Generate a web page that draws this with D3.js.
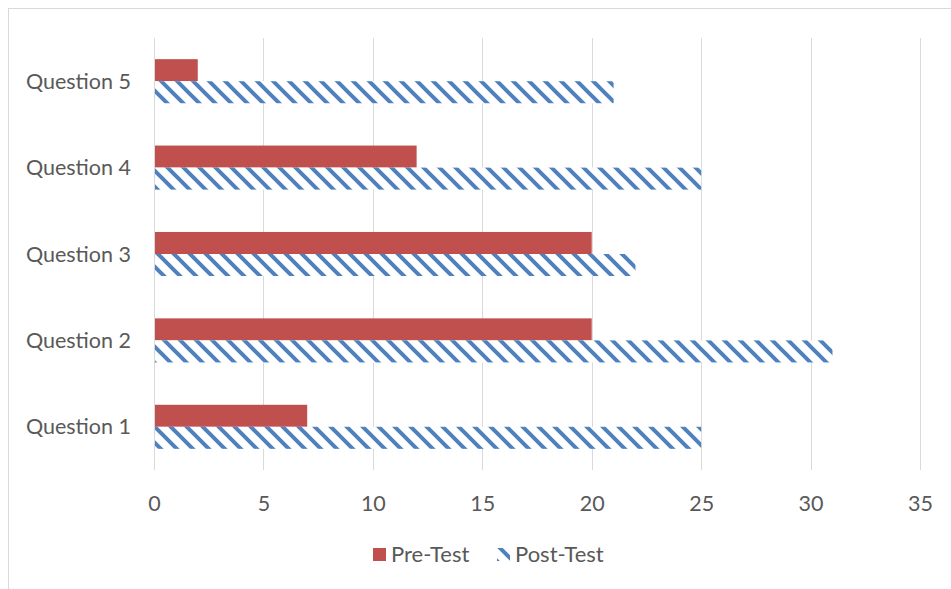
<!DOCTYPE html>
<html><head><meta charset="utf-8">
<script src="https://cdn.jsdelivr.net/npm/d3@7"></script>
<style>body{margin:0;background:#fff;} svg{display:block;}</style>
</head><body>
<svg id="c" width="951" height="589"></svg>
<script>
const categories = ["Question 1","Question 2","Question 3","Question 4","Question 5"];
const preTest = [7, 20, 20, 12, 2];
const postTest = [25, 31, 22, 25, 21];
const xTicks = [0,5,10,15,20,25,30,35];
const seriesNames = ["Pre-Test","Post-Test"];

const svg = d3.select("#c");
const font = "Lato, 'Open Sans', sans-serif";
const fs = "21.5px";
const fsLeg = "22px";
const textCol = "#595959";
const red = "#C0504D", blue = "#4F81BD";

// chart border
svg.append("rect").attr("x",8.5).attr("y",8.5).attr("width",980).attr("height",620)
  .attr("fill","none").attr("stroke","#d9d9d9").attr("stroke-width",1);

const defs = svg.append("defs");
const pat = defs.append("pattern").attr("id","hatch").attr("patternUnits","userSpaceOnUse")
  .attr("width",16).attr("height",16);
pat.append("rect").attr("width",16).attr("height",16).attr("fill","#fff");
pat.append("path").attr("d","M-4,-4 L20,20 M-4,12 L4,20 M12,-4 L20,4")
  .attr("stroke",blue).attr("stroke-width",4);

const x = d3.scaleLinear().domain([0,35]).range([154,920]);
const y = d3.scaleBand().domain(categories.slice().reverse()).range([38,470]).paddingInner(0.49).paddingOuter(0.245);

// gridlines
svg.append("g").selectAll("line").data(xTicks).join("line")
  .attr("x1",d=>Math.round(x(d))+0.5).attr("x2",d=>Math.round(x(d))+0.5)
  .attr("y1",38).attr("y2",470).attr("stroke","#d9d9d9").attr("stroke-width",1);

const bh = y.bandwidth()/2;
const g = svg.append("g");
g.selectAll(".pre").data(categories).join("rect")
  .attr("x",x(0)+1).attr("y",d=>y(d)).attr("height",bh)
  .attr("width",(d,i)=>x(preTest[i])-x(0)-1).attr("fill",red);
g.selectAll(".post").data(categories).join("rect")
  .attr("x",x(0)+1).attr("y",d=>y(d)+bh).attr("height",bh)
  .attr("width",(d,i)=>x(postTest[i])-x(0)-1).attr("fill","url(#hatch)");

// x tick labels
const xa = svg.append("g").attr("transform","translate(0,470)")
  .call(d3.axisBottom(x).tickValues(xTicks).tickSize(0).tickPadding(0).tickFormat(d3.format("d")));
xa.select(".domain").remove();
xa.selectAll("text").attr("y",41).attr("dy",0).attr("font-family",font).attr("font-size",fs).attr("fill",textCol);

// y labels
const ya = svg.append("g").attr("transform","translate(154,0)")
  .call(d3.axisLeft(y).tickSize(0).tickPadding(23));
ya.select(".domain").remove();
ya.selectAll("text").attr("font-family",font).attr("font-size",fs).attr("fill",textCol).attr("dy","0.35em");

// legend
const leg = svg.append("g");
leg.append("rect").attr("x",373).attr("y",548).attr("width",13).attr("height",13).attr("fill",red);
leg.append("text").attr("x",391).attr("y",562).text(seriesNames[0])
  .attr("font-family",font).attr("font-size",fsLeg).attr("fill",textCol);
leg.append("rect").attr("x",497).attr("y",548).attr("width",13).attr("height",13).attr("fill","url(#hatch)");
leg.append("text").attr("x",515).attr("y",562).text(seriesNames[1])
  .attr("font-family",font).attr("font-size",fsLeg).attr("fill",textCol);
</script>
</body></html>
